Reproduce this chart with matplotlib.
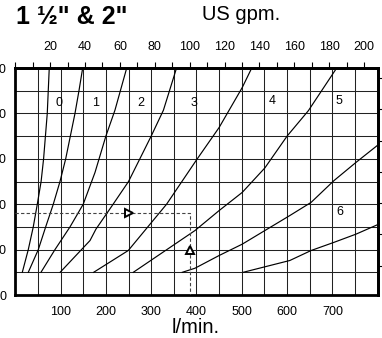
import matplotlib
matplotlib.use("Agg")
import matplotlib.pyplot as plt
from matplotlib.ticker import MultipleLocator, FixedLocator

plt.rcParams['font.family'] = ['Liberation Sans', 'DejaVu Sans']

# flow in l/min, pressure loss in kPa
q0 = [15.5, 28.7, 39.7, 48.6, 57, 62.5, 70.6, 72.8, 75]
dp0 = [5, 10, 15, 20, 25, 30, 40, 45, 50]
q1 = [28.7, 50.8, 67.1, 83.9, 98.7, 111.3, 131.8, 140.6, 148.8]
dp1 = [5, 10, 15, 20, 25, 30, 40, 45, 50]
q2 = [56.7, 87.6, 120.8, 150, 176, 200, 220, 246]
dp2 = [5, 10, 15, 20, 27, 35, 40.7, 50]
q3 = [99, 165, 178, 216, 250, 300, 327, 356]
dp3 = [5, 12, 14.5, 20, 25, 35, 40.7, 50]
q4 = [173, 249.4, 334, 399, 450, 501, 522]
dp4 = [5, 9.8, 20, 29.6, 36.9, 45.7, 50]
q5 = [260.5, 396.7, 450, 501, 551, 600, 647, 709.5]
dp5 = [5, 14.2, 18.6, 22.6, 28, 35, 40.6, 50]
q6 = [368.7, 396.7, 450, 501, 551, 606, 653, 703.5, 752, 800]
dp6 = [5, 5.9, 8.7, 11.2, 14.2, 17.5, 20.4, 25.2, 29.2, 33]
q7 = [503, 606, 653, 703.5, 752, 800]
dp7 = [5, 7.6, 9.8, 11.6, 13.4, 15.5]

curve_q = [q0, q1, q2, q3, q4, q5, q6, q7]
curve_dp = [dp0, dp1, dp2, dp3, dp4, dp5, dp6, dp7]

label_text = ['0', '1', '2', '3', '4', '5', '6']
label_q = [97, 178, 277, 394, 567, 715, 717]
label_dp = [42.4, 42.4, 42.4, 42.4, 42.8, 42.8, 18.2]

# example reading
ex_q = 385
ex_dp = 18

bottom_ticks = [100, 200, 300, 400, 500, 600, 700]
left_ticks = [0, 10, 20, 30, 40, 50]
gpm_ticks = [0, 20, 40, 60, 80, 100, 120, 140, 160, 180, 200]
psi_ticks = [1, 2, 3, 4, 5, 6, 7]
LPM_PER_GPM = 3.85

fig = plt.figure(figsize=(3.82, 3.38), dpi=100)
ax = fig.add_axes([0.04, 0.1272, 0.9487, 0.6716])
ax.set_xlim(0, 800)
ax.set_ylim(0, 50)

ax.set_xticks(bottom_ticks)
ax.xaxis.set_minor_locator(MultipleLocator(50))
ax.set_yticks(left_ticks)
ax.yaxis.set_minor_locator(MultipleLocator(5))
ax.grid(which='both', color='#222222', lw=0.75)
ax.set_axisbelow(True)
ax.tick_params(which='both', length=0)
ax.tick_params(axis='x', pad=8, labelsize=9)
ax.tick_params(axis='y', pad=6.5, labelsize=9)
for s in ax.spines.values():
    s.set_linewidth(2)

for q, dp in zip(curve_q, curve_dp):
    ax.plot(q, dp, color='black', lw=0.85, zorder=3)

for t, x, y in zip(label_text, label_q, label_dp):
    ax.text(x, y, t, fontsize=9, ha='center', va='center', zorder=4)

ax.plot([0, ex_q, ex_q], [ex_dp, ex_dp, 0], color='#444444', lw=0.8,
        ls=(0, (3, 2)), zorder=3)
ax.plot(251, ex_dp, marker='>', ms=6, mfc='white', mec='black', mew=1.4, zorder=5)
ax.plot(ex_q, 10, marker='^', ms=6, mfc='white', mec='black', mew=1.4, zorder=5)

top = ax.secondary_xaxis('top', functions=(lambda x: x / LPM_PER_GPM,
                                           lambda g: g * LPM_PER_GPM))
top.xaxis.set_major_locator(FixedLocator(gpm_ticks))
top.set_xticklabels([''] + [str(g) for g in gpm_ticks[1:]])
top.xaxis.set_minor_locator(MultipleLocator(10))
top.tick_params(which='both', direction='out', length=4.5, width=0.8, pad=6.5, labelsize=9)
top.spines['top'].set_linewidth(2)

right = ax.secondary_yaxis('right', functions=(lambda p: (p + 0.45) / 6.895,
                                               lambda s: s * 6.895 - 0.45))
right.yaxis.set_major_locator(FixedLocator(psi_ticks))
right.tick_params(direction='out', length=4, width=0.8, labelright=False)
right.spines['right'].set_linewidth(2)

fig.text(16.5 / 382, 0.928, '1 \u00bd" & 2"', fontsize=18, fontweight='bold',
         ha='left', va='baseline')
fig.text(202 / 382, 0.941, 'US gpm.', fontsize=14.5, ha='left', va='baseline')
fig.text(196 / 382, 0.0148, 'l/min.', fontsize=14.5, ha='center', va='baseline')

fig.savefig('out.png', dpi=100)
